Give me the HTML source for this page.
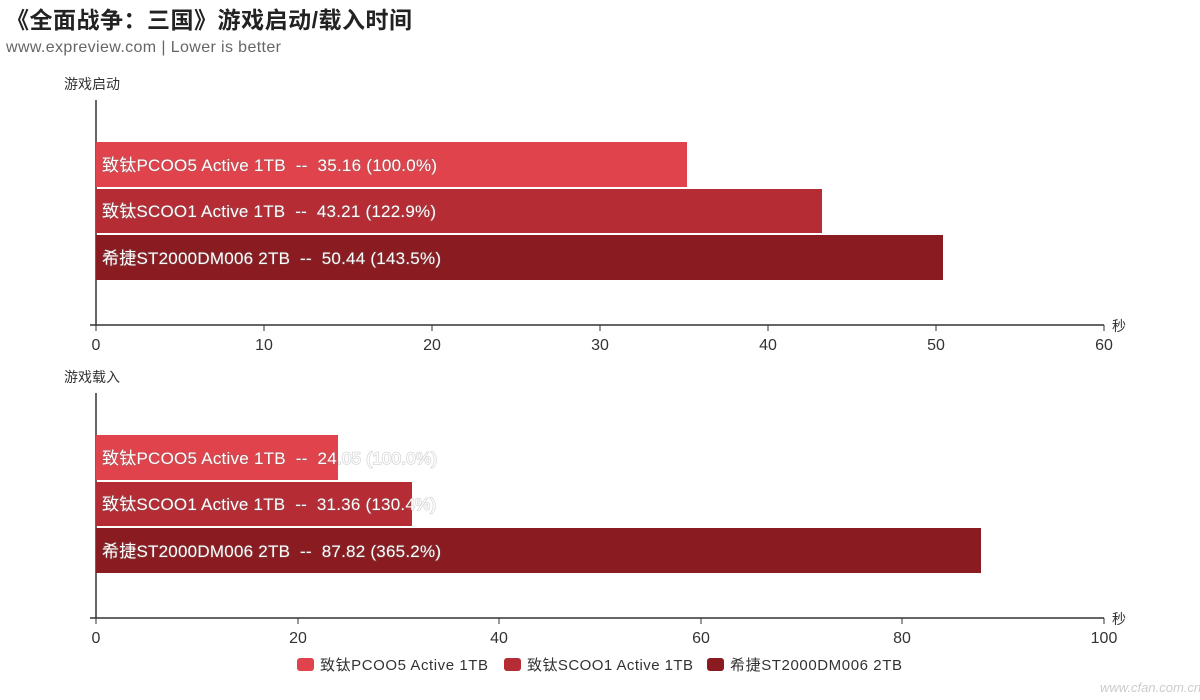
<!DOCTYPE html>
<html><head><meta charset="utf-8"><style>
html,body{margin:0;padding:0;background:#fff;width:1200px;height:700px;overflow:hidden}
text{font-family:"Liberation Sans","Noto Sans CJK SC",sans-serif;white-space:pre}
.lb{paint-order:stroke;stroke:rgba(120,120,120,0.3);stroke-width:1.5px}
</style></head><body>
<svg width="1200" height="700" xmlns="http://www.w3.org/2000/svg" xml:space="preserve">
<text x="6" y="28" font-size="23" font-weight="bold" fill="#222" textLength="406">《全面战争：三国》游戏启动/载入时间</text>
<text x="6" y="52" font-size="16" fill="#666" textLength="275">www.expreview.com | Lower is better</text>

<text x="64" y="89" font-size="14" fill="#333">游戏启动</text>
<line x1="96" y1="100" x2="96" y2="325" stroke="#333" stroke-width="1.5"/>
<rect x="96" y="142" width="591" height="45" fill="#e0434b"/>
<rect x="96" y="189" width="726" height="44" fill="#b52c35"/>
<rect x="96" y="235" width="847" height="45" fill="#8a1c21"/>
<g font-size="17" fill="#fff" class="lb">
<text x="102" y="171" textLength="335">致钛PCOO5 Active 1TB  --  35.16 (100.0%)</text>
<text x="102" y="217" textLength="334">致钛SCOO1 Active 1TB  --  43.21 (122.9%)</text>
<text x="102" y="264" textLength="339">希捷ST2000DM006 2TB  --  50.44 (143.5%)</text>
</g>
<line x1="90" y1="325" x2="1104" y2="325" stroke="#333" stroke-width="1.5"/>
<g stroke="#333"><line x1="96" y1="325" x2="96" y2="331"/><line x1="264" y1="325" x2="264" y2="331"/><line x1="432" y1="325" x2="432" y2="331"/><line x1="600" y1="325" x2="600" y2="331"/><line x1="768" y1="325" x2="768" y2="331"/><line x1="936" y1="325" x2="936" y2="331"/><line x1="1104" y1="325" x2="1104" y2="331"/></g>
<g font-size="16" fill="#333" text-anchor="middle">
<text x="96" y="350">0</text><text x="264" y="350">10</text><text x="432" y="350">20</text><text x="600" y="350">30</text><text x="768" y="350">40</text><text x="936" y="350">50</text><text x="1104" y="350">60</text>
</g>
<text x="1112" y="331" font-size="14" fill="#333">秒</text>

<text x="64" y="382" font-size="14" fill="#333">游戏载入</text>
<line x1="96" y1="393" x2="96" y2="618" stroke="#333" stroke-width="1.5"/>
<rect x="96" y="435" width="242" height="45" fill="#e0434b"/>
<rect x="96" y="482" width="316" height="44" fill="#b52c35"/>
<rect x="96" y="528" width="885" height="45" fill="#8a1c21"/>
<g font-size="17" fill="#fff" class="lb">
<text x="102" y="464" textLength="335">致钛PCOO5 Active 1TB  --  24.05 (100.0%)</text>
<text x="102" y="510" textLength="334">致钛SCOO1 Active 1TB  --  31.36 (130.4%)</text>
<text x="102" y="557" textLength="339">希捷ST2000DM006 2TB  --  87.82 (365.2%)</text>
</g>
<line x1="90" y1="618" x2="1104" y2="618" stroke="#333" stroke-width="1.5"/>
<g stroke="#333"><line x1="96" y1="618" x2="96" y2="624"/><line x1="298" y1="618" x2="298" y2="624"/><line x1="499" y1="618" x2="499" y2="624"/><line x1="701" y1="618" x2="701" y2="624"/><line x1="902" y1="618" x2="902" y2="624"/><line x1="1104" y1="618" x2="1104" y2="624"/></g>
<g font-size="16" fill="#333" text-anchor="middle">
<text x="96" y="643">0</text><text x="298" y="643">20</text><text x="499" y="643">40</text><text x="701" y="643">60</text><text x="902" y="643">80</text><text x="1104" y="643">100</text>
</g>
<text x="1112" y="624" font-size="14" fill="#333">秒</text>

<rect x="297" y="658" width="17" height="13" rx="3" fill="#e0434b"/>
<text x="320" y="670" font-size="15" fill="#333" textLength="168">致钛PCOO5 Active 1TB</text>
<rect x="504" y="658" width="17" height="13" rx="3" fill="#b52c35"/>
<text x="527" y="670" font-size="15" fill="#333" textLength="166">致钛SCOO1 Active 1TB</text>
<rect x="707" y="658" width="17" height="13" rx="3" fill="#8a1c21"/>
<text x="730" y="670" font-size="15" fill="#333" textLength="172">希捷ST2000DM006 2TB</text>
<text x="1100" y="692" font-size="13" fill="#ccc" font-style="italic">www.cfan.com.cn</text>
</svg>
</body></html>
